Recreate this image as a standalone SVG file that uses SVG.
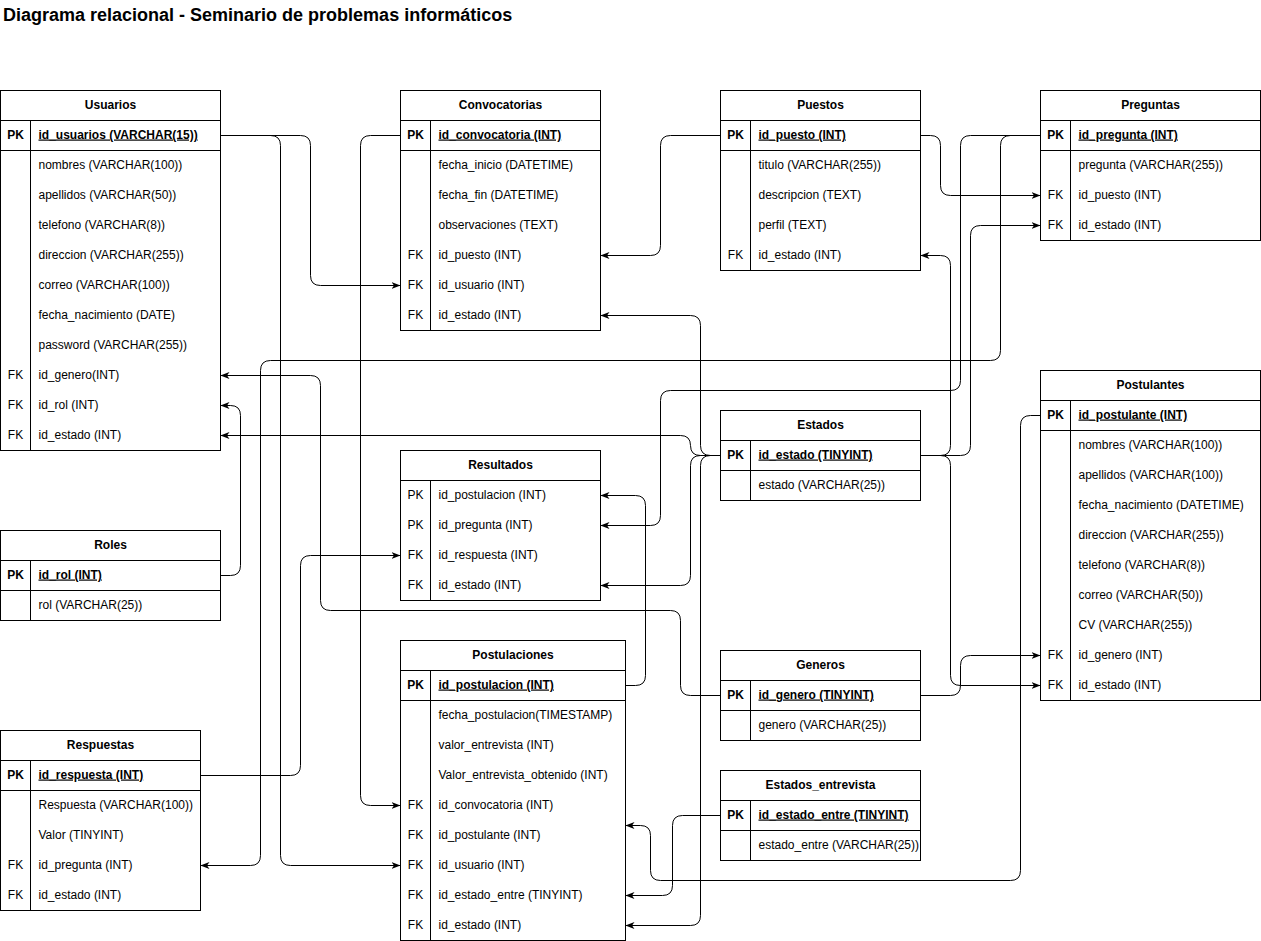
<svg xmlns="http://www.w3.org/2000/svg" width="1261" height="941" viewBox="0 0 1261 941">
  <style>
    .tb { fill: #ffffff; stroke: #000000; stroke-width: 1; }
    .ln { stroke: #000000; stroke-width: 1; fill: none; }
    text { font-family: "Liberation Sans", Arial, Helvetica, sans-serif; font-size: 12px; fill: #000000; }
    .tables text { transform: translateY(-1px); }
    .hd { font-weight: bold; text-anchor: middle; }
    .k { text-anchor: middle; }
    .kb { text-anchor: middle; font-weight: bold; }
    .pk { font-weight: bold; text-decoration: underline; }
    .title { font-size: 18px; font-weight: bold; }
    .cn path { stroke: #000000; stroke-width: 1; fill: none; marker-end: url(#arrow); }
  </style>
  <defs>
    <marker id="arrow" markerUnits="userSpaceOnUse" viewBox="0 0 9 8" markerWidth="9" markerHeight="8" refX="9" refY="4" orient="auto">
      <path d="M0,0.5 L9,4 L0,7.5 L2.5,4 Z" fill="#000000"/>
    </marker>
  </defs>
  <rect x="0" y="0" width="1261" height="941" fill="#ffffff"/>
  <text class="title" x="3" y="21">Diagrama relacional - Seminario de problemas informáticos</text>

  <g transform="translate(0.5,0.5)">
    <!-- relationships -->
    <g id="connectors" class="cn">
      <path d="M220,135 H300 Q310,135 310,145 V275 Q310,285 320,285 H400"/>
      <path d="M220,135 H270 Q280,135 280,145 V855 Q280,865 290,865 H400"/>
      <path d="M400,135 H370 Q360,135 360,145 V795 Q360,805 370,805 H400"/>
      <path d="M720,135 H670 Q660,135 660,145 V245 Q660,255 650,255 H600"/>
      <path d="M920,135 H930 Q940,135 940,145 V185 Q940,195 950,195 H1040"/>
      <path d="M1040,135 H1010 Q1000,135 1000,145 V350 Q1000,360 990,360 H270 Q260,360 260,370 V855 Q260,865 250,865 H200"/>
      <path d="M1040,135 H970 Q960,135 960,145 V380 Q960,390 950,390 H670 Q660,390 660,400 V515 Q660,525 650,525 H600"/>
      <path d="M920,455 H940 Q950,455 950,445 V265 Q950,255 940,255 H920"/>
      <path d="M920,455 H960 Q970,455 970,445 V235 Q970,225 980,225 H1040"/>
      <path d="M920,455 H940 Q950,455 950,465 V675 Q950,685 960,685 H1040"/>
      <path d="M920,695 H950 Q960,695 960,685 V665 Q960,655 970,655 H1040"/>
      <path d="M720,455 H710 Q700,455 700,445 V325 Q700,315 690,315 H600"/>
      <path d="M720,455 H710 Q700,455 700,465 V915 Q700,925 690,925 H625"/>
      <path d="M720,455 H700 Q690,455 690,445 Q690,435 680,435 H220"/>
      <path d="M720,455 H700 Q690,455 690,465 V575 Q690,585 680,585 H600"/>
      <path d="M625,685 H635 Q645,685 645,675 V505 Q645,495 635,495 H600"/>
      <path d="M720,695 H690 Q680,695 680,685 V620 Q680,610 670,610 H330 Q320,610 320,600 V385 Q320,375 310,375 H220"/>
      <path d="M220,575 H230 Q240,575 240,565 V415 Q240,405 230,405 H220"/>
      <path d="M200,775 H290 Q300,775 300,765 V565 Q300,555 310,555 H400"/>
      <path d="M720,815 H682 Q672,815 672,825 V885 Q672,895 662,895 H625"/>
      <path d="M1040,415 H1030 Q1020,415 1020,425 V870 Q1020,880 1010,880 H660 Q650,880 650,870 V835 Q650,825 640,825 H625"/>
    </g>

    <g class="tables">
    <!-- Usuarios -->
    <g id="usuarios">
      <rect class="tb" x="0" y="90" width="220" height="360"/>
      <path class="ln" d="M0,120 H220 M0,150 H220 M30,120 V450"/>
      <text class="hd" x="110" y="109">Usuarios</text>
      <text class="kb" x="15" y="139">PK</text>
      <text class="pk" x="38" y="139">id_usuarios (VARCHAR(15))</text>
      <text x="38" y="169">nombres (VARCHAR(100))</text>
      <text x="38" y="199">apellidos (VARCHAR(50))</text>
      <text x="38" y="229">telefono (VARCHAR(8))</text>
      <text x="38" y="259">direccion (VARCHAR(255))</text>
      <text x="38" y="289">correo (VARCHAR(100))</text>
      <text x="38" y="319">fecha_nacimiento (DATE)</text>
      <text x="38" y="349">password (VARCHAR(255))</text>
      <text class="k" x="15" y="379">FK</text>
      <text x="38" y="379">id_genero(INT)</text>
      <text class="k" x="15" y="409">FK</text>
      <text x="38" y="409">id_rol (INT)</text>
      <text class="k" x="15" y="439">FK</text>
      <text x="38" y="439">id_estado (INT)</text>
    </g>

    <!-- Convocatorias -->
    <g id="convocatorias">
      <rect class="tb" x="400" y="90" width="200" height="240"/>
      <path class="ln" d="M400,120 H600 M400,150 H600 M430,120 V330"/>
      <text class="hd" x="500" y="109">Convocatorias</text>
      <text class="kb" x="415" y="139">PK</text>
      <text class="pk" x="438" y="139">id_convocatoria (INT)</text>
      <text x="438" y="169">fecha_inicio (DATETIME)</text>
      <text x="438" y="199">fecha_fin (DATETIME)</text>
      <text x="438" y="229">observaciones (TEXT)</text>
      <text class="k" x="415" y="259">FK</text>
      <text x="438" y="259">id_puesto (INT)</text>
      <text class="k" x="415" y="289">FK</text>
      <text x="438" y="289">id_usuario (INT)</text>
      <text class="k" x="415" y="319">FK</text>
      <text x="438" y="319">id_estado (INT)</text>
    </g>

    <!-- Puestos -->
    <g id="puestos">
      <rect class="tb" x="720" y="90" width="200" height="180"/>
      <path class="ln" d="M720,120 H920 M720,150 H920 M750,120 V270"/>
      <text class="hd" x="820" y="109">Puestos</text>
      <text class="kb" x="735" y="139">PK</text>
      <text class="pk" x="758" y="139">id_puesto (INT)</text>
      <text x="758" y="169">titulo (VARCHAR(255))</text>
      <text x="758" y="199">descripcion (TEXT)</text>
      <text x="758" y="229">perfil (TEXT)</text>
      <text class="k" x="735" y="259">FK</text>
      <text x="758" y="259">id_estado (INT)</text>
    </g>

    <!-- Preguntas -->
    <g id="preguntas">
      <rect class="tb" x="1040" y="90" width="220" height="150"/>
      <path class="ln" d="M1040,120 H1260 M1040,150 H1260 M1070,120 V240"/>
      <text class="hd" x="1150" y="109">Preguntas</text>
      <text class="kb" x="1055" y="139">PK</text>
      <text class="pk" x="1078" y="139">id_pregunta (INT)</text>
      <text x="1078" y="169">pregunta (VARCHAR(255))</text>
      <text class="k" x="1055" y="199">FK</text>
      <text x="1078" y="199">id_puesto (INT)</text>
      <text class="k" x="1055" y="229">FK</text>
      <text x="1078" y="229">id_estado (INT)</text>
    </g>

    <!-- Estados -->
    <g id="estados">
      <rect class="tb" x="720" y="410" width="200" height="90"/>
      <path class="ln" d="M720,440 H920 M720,470 H920 M750,440 V500"/>
      <text class="hd" x="820" y="429">Estados</text>
      <text class="kb" x="735" y="459">PK</text>
      <text class="pk" x="758" y="459">id_estado (TINYINT)</text>
      <text x="758" y="489">estado (VARCHAR(25))</text>
    </g>

    <!-- Postulantes -->
    <g id="postulantes">
      <rect class="tb" x="1040" y="370" width="220" height="330"/>
      <path class="ln" d="M1040,400 H1260 M1040,430 H1260 M1070,400 V700"/>
      <text class="hd" x="1150" y="389">Postulantes</text>
      <text class="kb" x="1055" y="419">PK</text>
      <text class="pk" x="1078" y="419">id_postulante (INT)</text>
      <text x="1078" y="449">nombres (VARCHAR(100))</text>
      <text x="1078" y="479">apellidos (VARCHAR(100))</text>
      <text x="1078" y="509">fecha_nacimiento (DATETIME)</text>
      <text x="1078" y="539">direccion (VARCHAR(255))</text>
      <text x="1078" y="569">telefono (VARCHAR(8))</text>
      <text x="1078" y="599">correo (VARCHAR(50))</text>
      <text x="1078" y="629">CV (VARCHAR(255))</text>
      <text class="k" x="1055" y="659">FK</text>
      <text x="1078" y="659">id_genero (INT)</text>
      <text class="k" x="1055" y="689">FK</text>
      <text x="1078" y="689">id_estado (INT)</text>
    </g>

    <!-- Resultados -->
    <g id="resultados">
      <rect class="tb" x="400" y="450" width="200" height="150"/>
      <path class="ln" d="M400,480 H600 M430,480 V600"/>
      <text class="hd" x="500" y="469">Resultados</text>
      <text class="k" x="415" y="499">PK</text>
      <text x="438" y="499">id_postulacion (INT)</text>
      <text class="k" x="415" y="529">PK</text>
      <text x="438" y="529">id_pregunta (INT)</text>
      <text class="k" x="415" y="559">FK</text>
      <text x="438" y="559">id_respuesta (INT)</text>
      <text class="k" x="415" y="589">FK</text>
      <text x="438" y="589">id_estado (INT)</text>
    </g>

    <!-- Roles -->
    <g id="roles">
      <rect class="tb" x="0" y="530" width="220" height="90"/>
      <path class="ln" d="M0,560 H220 M0,590 H220 M30,560 V620"/>
      <text class="hd" x="110" y="549">Roles</text>
      <text class="kb" x="15" y="579">PK</text>
      <text class="pk" x="38" y="579">id_rol (INT)</text>
      <text x="38" y="609">rol (VARCHAR(25))</text>
    </g>

    <!-- Generos -->
    <g id="generos">
      <rect class="tb" x="720" y="650" width="200" height="90"/>
      <path class="ln" d="M720,680 H920 M720,710 H920 M750,680 V740"/>
      <text class="hd" x="820" y="669">Generos</text>
      <text class="kb" x="735" y="699">PK</text>
      <text class="pk" x="758" y="699">id_genero (TINYINT)</text>
      <text x="758" y="729">genero (VARCHAR(25))</text>
    </g>

    <!-- Estados_entrevista -->
    <g id="estados_entrevista">
      <rect class="tb" x="720" y="770" width="200" height="90"/>
      <path class="ln" d="M720,800 H920 M720,830 H920 M750,800 V860"/>
      <text class="hd" x="820" y="789">Estados_entrevista</text>
      <text class="kb" x="735" y="819">PK</text>
      <text class="pk" x="758" y="819">id_estado_entre (TINYINT)</text>
      <text x="758" y="849">estado_entre (VARCHAR(25))</text>
    </g>

    <!-- Respuestas -->
    <g id="respuestas">
      <rect class="tb" x="0" y="730" width="200" height="180"/>
      <path class="ln" d="M0,760 H200 M0,790 H200 M30,760 V910"/>
      <text class="hd" x="100" y="749">Respuestas</text>
      <text class="kb" x="15" y="779">PK</text>
      <text class="pk" x="38" y="779">id_respuesta (INT)</text>
      <text x="38" y="809">Respuesta (VARCHAR(100))</text>
      <text x="38" y="839">Valor (TINYINT)</text>
      <text class="k" x="15" y="869">FK</text>
      <text x="38" y="869">id_pregunta (INT)</text>
      <text class="k" x="15" y="899">FK</text>
      <text x="38" y="899">id_estado (INT)</text>
    </g>

    <!-- Postulaciones -->
    <g id="postulaciones">
      <rect class="tb" x="400" y="640" width="225" height="300"/>
      <path class="ln" d="M400,670 H625 M400,700 H625 M430,670 V940"/>
      <text class="hd" x="512.5" y="659">Postulaciones</text>
      <text class="kb" x="415" y="689">PK</text>
      <text class="pk" x="438" y="689">id_postulacion (INT)</text>
      <text x="438" y="719">fecha_postulacion(TIMESTAMP)</text>
      <text x="438" y="749">valor_entrevista (INT)</text>
      <text x="438" y="779">Valor_entrevista_obtenido (INT)</text>
      <text class="k" x="415" y="809">FK</text>
      <text x="438" y="809">id_convocatoria (INT)</text>
      <text class="k" x="415" y="839">FK</text>
      <text x="438" y="839">id_postulante (INT)</text>
      <text class="k" x="415" y="869">FK</text>
      <text x="438" y="869">id_usuario (INT)</text>
      <text class="k" x="415" y="899">FK</text>
      <text x="438" y="899">id_estado_entre (TINYINT)</text>
      <text class="k" x="415" y="929">FK</text>
      <text x="438" y="929">id_estado (INT)</text>
    </g>
    </g>
  </g>
</svg>
